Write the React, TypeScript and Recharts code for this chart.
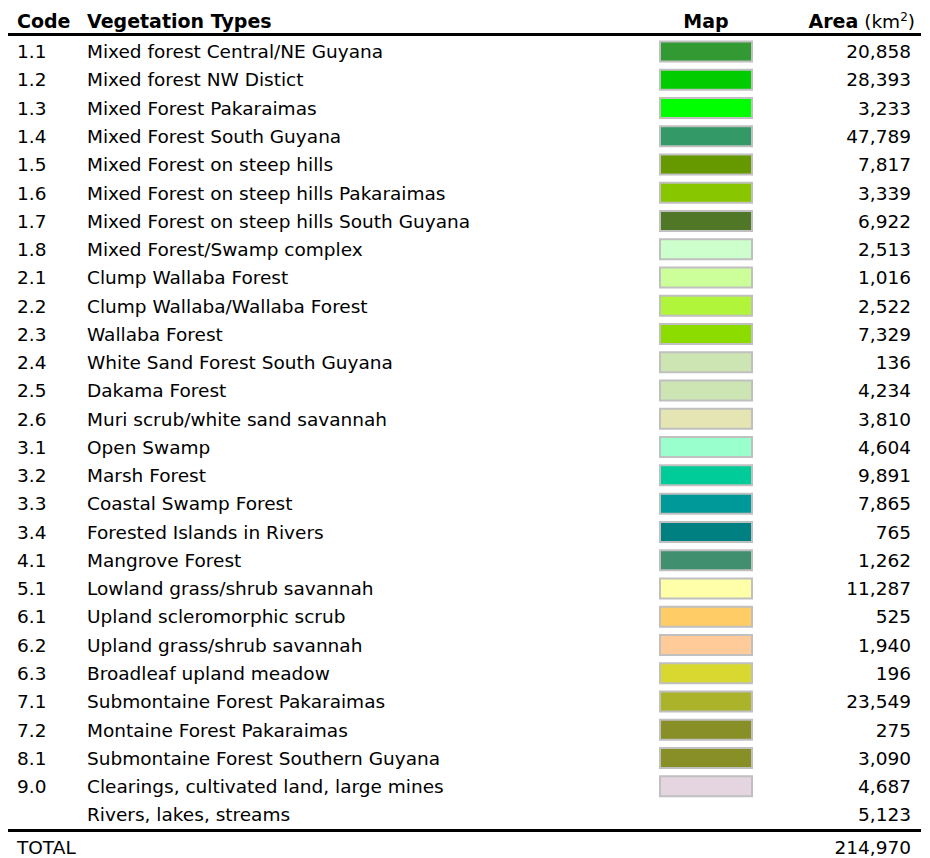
import React from "react";
import { ComposedChart, Bar, XAxis, YAxis, Cell, Customized } from "recharts";

const codes = ["1.1","1.2","1.3","1.4","1.5","1.6","1.7","1.8","2.1","2.2","2.3","2.4","2.5","2.6","3.1","3.2","3.3","3.4","4.1","5.1","6.1","6.2","6.3","7.1","7.2","8.1","9.0",""];
const names = [
  "Mixed forest Central/NE Guyana",
  "Mixed forest NW Distict",
  "Mixed Forest Pakaraimas",
  "Mixed Forest South Guyana",
  "Mixed Forest on steep hills",
  "Mixed Forest on steep hills Pakaraimas",
  "Mixed Forest on steep hills South Guyana",
  "Mixed Forest/Swamp complex",
  "Clump Wallaba Forest",
  "Clump Wallaba/Wallaba Forest",
  "Wallaba Forest",
  "White Sand Forest South Guyana",
  "Dakama Forest",
  "Muri scrub/white sand savannah",
  "Open Swamp",
  "Marsh Forest",
  "Coastal Swamp Forest",
  "Forested Islands in Rivers",
  "Mangrove Forest",
  "Lowland grass/shrub savannah",
  "Upland scleromorphic scrub",
  "Upland grass/shrub savannah",
  "Broadleaf upland meadow",
  "Submontaine Forest Pakaraimas",
  "Montaine Forest Pakaraimas",
  "Submontaine Forest Southern Guyana",
  "Clearings, cultivated land, large mines",
  "Rivers, lakes, streams",
];
const areas = [20858,28393,3233,47789,7817,3339,6922,2513,1016,2522,7329,136,4234,3810,4604,9891,7865,765,1262,11287,525,1940,196,23549,275,3090,4687,5123];
const mapColors: (string | null)[] = [
  "#339933","#00cc00","#00ff00","#339966","#669900","#88c700","#4f7726","#ccffcc",
  "#ccff99","#b0f53a","#8cdc00","#cce5b3","#cce5b3","#e5e5b3",
  "#99ffcc","#00cc99","#009999","#008080","#409070",
  "#ffffaa","#ffcc66","#ffcc99","#d8d830","#aab32a","#888f26","#888f26","#e5d5e0",
  null,
];
const totalLabel = "TOTAL";

const rows = names.map((name, i) => ({
  name,
  code: codes[i],
  area: areas[i],
  color: mapColors[i],
  swatch: mapColors[i] ? 1 : null,
}));
const total = areas.reduce((a, b) => a + b, 0);

const FONT = "'DejaVu Sans', Verdana, sans-serif";
const FS = 18.5;
const HFS = 19;
const W = 914;
const H = 850;
const LEFT_W = 652;
const RIGHT_W = 170;
const CODE_X = 9;
const NAME_X = 79;
const AREA_X = 903;
const fmt = (v: number) => v.toLocaleString("en-US");

const findRow = (props: any) => {
  const idx = props.index;
  if (typeof idx === "number" && rows[idx] && rows[idx].name === props.payload?.value) return rows[idx];
  return rows.find((r) => r.name === props.payload?.value) || rows[idx];
};

const LeftTick = (props: any) => {
  const row = findRow(props);
  if (!row) return null;
  return (
    <g>
      <text x={CODE_X} y={props.y} dy="0.36em" fontFamily={FONT} fontSize={FS} fill="#000">{row.code}</text>
      <text x={NAME_X} y={props.y} dy="0.36em" fontFamily={FONT} fontSize={FS} fill="#000">{row.name}</text>
    </g>
  );
};

const RightTick = (props: any) => {
  const row = findRow(props);
  if (!row) return null;
  return (
    <text x={AREA_X} y={props.y} dy="0.36em" textAnchor="end" fontFamily={FONT} fontSize={FS} fill="#000">
      {fmt(row.area)}
    </text>
  );
};

const Frame = () => (
  <g>
    <text x={CODE_X} y={20} fontFamily={FONT} fontSize={HFS} fill="#000" fontWeight="bold">Code</text>
    <text x={NAME_X} y={20} fontFamily={FONT} fontSize={HFS} fill="#000" fontWeight="bold">Vegetation Types</text>
    <text x={LEFT_W + 46} y={20} textAnchor="middle" fontFamily={FONT} fontSize={HFS} fill="#000" fontWeight="bold">Map</text>
    <text x={907} y={20} textAnchor="end" fontFamily={FONT} fontSize={FS} fill="#000">
      <tspan fontWeight="bold" fontSize={HFS}>Area</tspan>
      <tspan> (km</tspan>
      <tspan fontSize={12} dy={-7}>2</tspan>
      <tspan dy={7}>)</tspan>
    </text>
    <line x1={0} x2={913} y1={26.5} y2={26.5} stroke="#000" strokeWidth={3} />
    <line x1={0} x2={913} y1={822.5} y2={822.5} stroke="#000" strokeWidth={3} />
    <text x={CODE_X} y={839} dy="0.36em" fontFamily={FONT} fontSize={FS} fill="#000">{totalLabel}</text>
    <text x={AREA_X} y={839} dy="0.36em" textAnchor="end" fontFamily={FONT} fontSize={FS} fill="#000">{fmt(total)}</text>
  </g>
);

export default function App() {
  return (
    <ComposedChart
      width={W}
      height={H}
      data={rows}
      layout="vertical"
      margin={{ top: 29.4, right: 0, bottom: 29.2, left: 0 }}
      barCategoryGap={0}
    >
      <XAxis type="number" domain={[0, 1]} hide />
      <YAxis
        yAxisId="left"
        type="category"
        dataKey="name"
        width={LEFT_W}
        axisLine={false}
        tickLine={false}
        interval={0}
        tick={<LeftTick />}
      />
      <YAxis
        yAxisId="right"
        orientation="right"
        type="category"
        dataKey="name"
        width={RIGHT_W}
        axisLine={false}
        tickLine={false}
        interval={0}
        tick={<RightTick />}
      />
      <Bar yAxisId="left" dataKey="swatch" barSize={20} stroke="#c0c0c0" strokeWidth={2} isAnimationActive={false}>
        {rows.map((r, i) => (
          <Cell key={i} fill={r.color || "none"} />
        ))}
      </Bar>
      <Customized component={Frame} />
    </ComposedChart>
  );
}
